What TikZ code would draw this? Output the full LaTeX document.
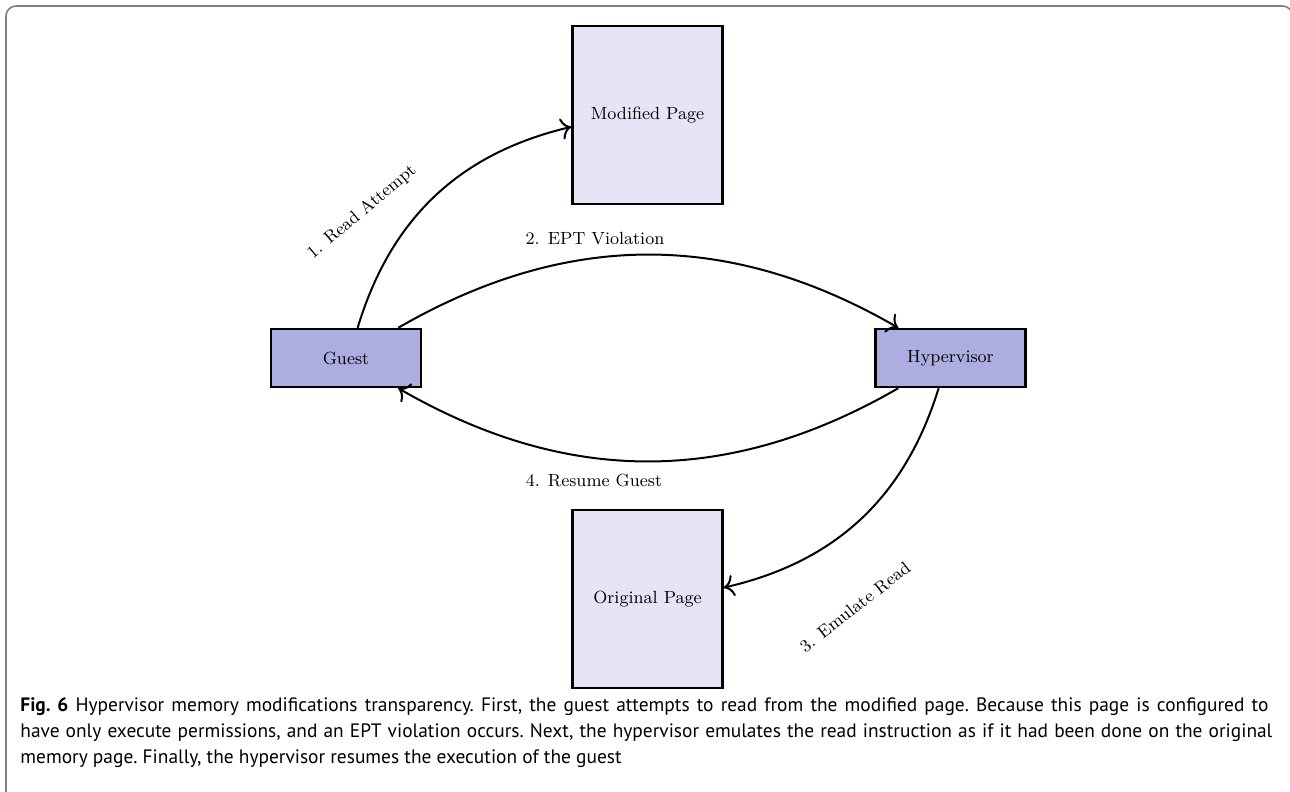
\documentclass[tikz,border=0pt]{standalone}
\usepackage{fontspec}
\usetikzlibrary{arrows.meta}
\newfontfamily\capfont{PT Sans}
\newcommand{\diagfont}{\fontsize{8.8}{10.5}\selectfont}
\newcommand{\captionfont}{\capfont\fontsize{9.7}{13}\selectfont\frenchspacing}
\definecolor{hostfill}{RGB}{173,173,225}
\definecolor{pagefill}{RGB}{229,229,246}
\definecolor{framegray}{RGB}{128,128,128}
\begin{document}
\begin{tikzpicture}[x=0.5pt,y=-0.5pt,
  proc/.style={draw, line width=1.2pt, fill=hostfill, minimum width=75pt, minimum height=29pt, inner sep=0pt, font=\diagfont},
  pagebox/.style={draw, line width=1.2pt, fill=pagefill, minimum width=75pt, minimum height=89pt, inner sep=0pt, font=\diagfont},
  flow/.style={-{To[scale=1.35]}, line width=1pt},
  lbl/.style={font=\diagfont, inner sep=0pt},
  capline/.style={anchor=base west, inner sep=0pt, font=\captionfont}]
\useasboundingbox (0,0) rectangle (1290,792);
% frame
\draw[framegray, line width=0.8pt, rounded corners=5pt] (6,800) -- (6,6) -- (1292.5,6) -- (1292.5,800);
% nodes
\node[proc] (guest) at (346,358) {Guest};
\node[proc] (hyper) at (950.5,358) {Hypervisor};
\node[pagebox] (modified) at (647.5,115) {Modified Page};
\node[pagebox] (original) at (647.5,599) {Original Page};
% connectors
\draw[flow] (guest) to[bend left] (modified);
\draw[flow] (guest) to[bend left] (hyper);
\draw[flow] (hyper) to[bend left] (original);
\draw[flow] (hyper) to[bend left] (guest);
% labels
\node[lbl, rotate=40] (l1) at (362,212) {1. Read Attempt};
\node[lbl] (l2) at (595,239) {2. EPT Violation};
\node[lbl, rotate=38] (l3) at (855,607) {3. Emulate Read};
\node[lbl] (l4) at (594,480) {4. Resume Guest};
% caption
\node[capline] (c1) at (20,711) {\makebox[624pt][s]{\textbf{Fig. 6} Hypervisor memory modifications transparency. First, the guest attempts to read from the modified page. Because this page is configured to}};
\node[capline] (c2) at (20,737) {\makebox[626pt][s]{have only execute permissions, and an EPT violation occurs. Next, the hypervisor emulates the read instruction as if it had been done on the original}};
\node[capline] (c3) at (20,763) {memory page. Finally, the hypervisor resumes the execution of the guest};
\end{tikzpicture}
\end{document}
